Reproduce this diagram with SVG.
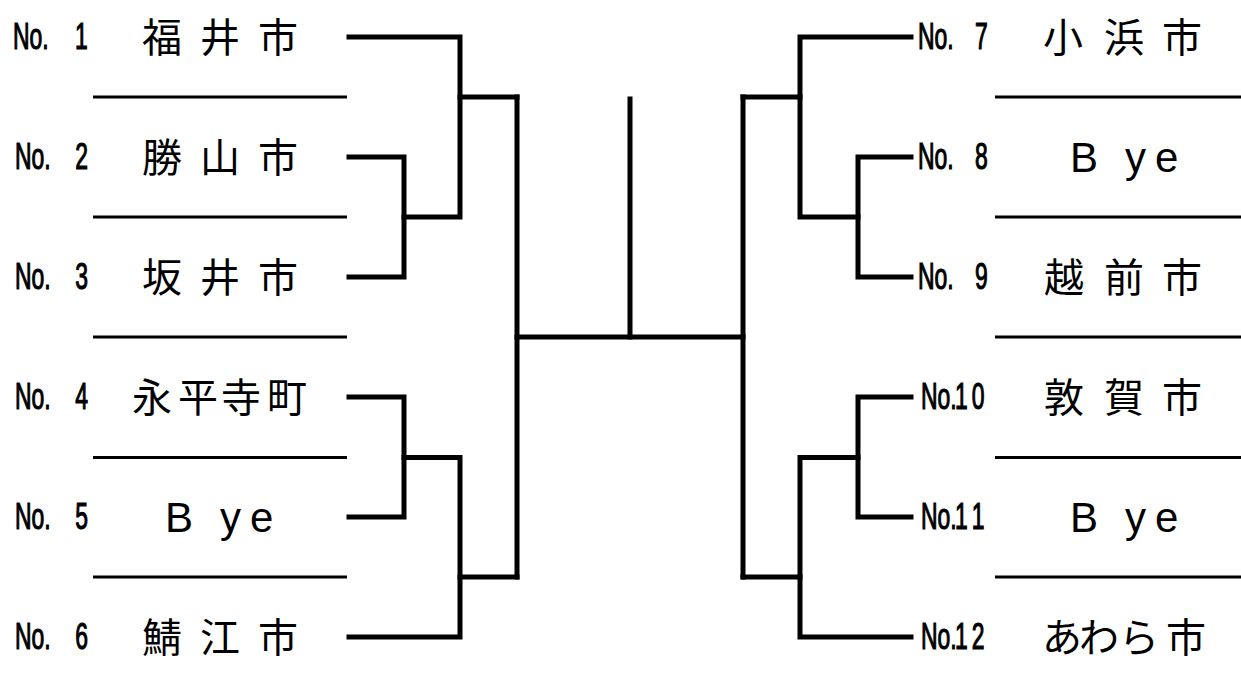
<svg xmlns="http://www.w3.org/2000/svg" width="1241" height="693" viewBox="0 0 1241 693">
<style>
.no{font-family:"Liberation Sans",Arial,sans-serif;font-size:37px;fill:#000;stroke:#000;stroke-width:1.2}
.nm{font-family:"Noto Sans CJK JP","Noto Sans CJK SC",sans-serif;font-size:40px;fill:#000}
.by{font-family:"Liberation Sans",Arial,sans-serif;font-size:42px;fill:#000}
.sep{stroke:#000;stroke-width:3;fill:none}
.con{stroke:#000;stroke-width:5;fill:none;stroke-linecap:square;stroke-linejoin:miter}
</style>
<rect width="1241" height="693" fill="#fff"/>
<g id="separators">
<line class="sep" x1="93" y1="97" x2="347" y2="97"/>
<line class="sep" x1="93" y1="217" x2="347" y2="217"/>
<line class="sep" x1="93" y1="337" x2="347" y2="337"/>
<line class="sep" x1="93" y1="457.5" x2="347" y2="457.5"/>
<line class="sep" x1="93" y1="577" x2="347" y2="577"/>
<line class="sep" x1="995" y1="97" x2="1241" y2="97"/>
<line class="sep" x1="995" y1="217" x2="1241" y2="217"/>
<line class="sep" x1="995" y1="337" x2="1241" y2="337"/>
<line class="sep" x1="995" y1="457.5" x2="1241" y2="457.5"/>
<line class="sep" x1="995" y1="577" x2="1241" y2="577"/>
</g>
<g id="connectors">
<path class="con" d="M349,37 H460 V217 H404"/>
<path class="con" d="M349,157 H404 V277 H349"/>
<path class="con" d="M460,97 H517"/>
<path class="con" d="M349,397 H404 V517 H349"/>
<path class="con" d="M404,457.5 H460 V637 H349"/>
<path class="con" d="M460,577 H517"/>
<path class="con" d="M517,97 V577"/>
<path class="con" d="M517,337 H743"/>
<path class="con" d="M630,99 V337"/>
<path class="con" d="M743,97 V577"/>
<path class="con" d="M743,97 H800"/>
<path class="con" d="M743,577 H800"/>
<path class="con" d="M911,37 H800 V217 H858"/>
<path class="con" d="M911,157 H858 V277 H911"/>
<path class="con" d="M911,397 H858 V517 H911"/>
<path class="con" d="M858,457.5 H800 V637 H911"/>
</g>
<g id="team1">
<text class="no" transform="translate(13,49) scale(0.62,1)">No. <tspan x="100">1</tspan></text>
<text class="nm" x="142 182 200 240 258" y="52">福 井 市</text>
</g>
<g id="team2">
<text class="no" transform="translate(15,169) scale(0.62,1)">No. <tspan x="97">2</tspan></text>
<text class="nm" x="142 182 200 240 258" y="172">勝 山 市</text>
</g>
<g id="team3">
<text class="no" transform="translate(15,289) scale(0.62,1)">No. <tspan x="97">3</tspan></text>
<text class="nm" x="142 182 200 240 258" y="292">坂 井 市</text>
</g>
<g id="team4">
<text class="no" transform="translate(15,409) scale(0.62,1)">No. <tspan x="97">4</tspan></text>
<text class="nm" x="132 178 221 267" y="412">永平寺町</text>
</g>
<g id="team5">
<text class="no" transform="translate(15,529) scale(0.62,1)">No. <tspan x="97">5</tspan></text>
<text class="by" x="165 195 220 243 250" y="532">B y e</text>
</g>
<g id="team6">
<text class="no" transform="translate(15,649) scale(0.62,1)">No. <tspan x="97">6</tspan></text>
<text class="nm" x="142 182 200 240 258" y="652">鯖 江 市</text>
</g>
<g id="team7">
<text class="no" transform="translate(918,49) scale(0.62,1)">No. <tspan x="92">7</tspan></text>
<text class="nm" x="1043 1083 1104 1144 1162" y="52">小 浜 市</text>
</g>
<g id="team8">
<text class="no" transform="translate(918,169) scale(0.62,1)">No. <tspan x="92">8</tspan></text>
<text class="by" x="1070 1100 1125 1148 1155" y="172">B y e</text>
</g>
<g id="team9">
<text class="no" transform="translate(918,289) scale(0.62,1)">No. <tspan x="92">9</tspan></text>
<text class="nm" x="1044 1084 1104 1144 1162" y="292">越 前 市</text>
</g>
<g id="team10">
<text class="no" transform="translate(921,409) scale(0.62,1)">No.<tspan x="55 82">10</tspan></text>
<text class="nm" x="1044 1084 1104 1144 1162" y="412">敦 賀 市</text>
</g>
<g id="team11">
<text class="no" transform="translate(921,529) scale(0.62,1)">No.<tspan x="55 82">11</tspan></text>
<text class="by" x="1070 1100 1125 1148 1155" y="532">B y e</text>
</g>
<g id="team12">
<text class="no" transform="translate(921,649) scale(0.62,1)">No.<tspan x="55 82">12</tspan></text>
<text class="nm" x="1042 1079 1119 1166" y="652">あわら市</text>
</g>
</svg>
